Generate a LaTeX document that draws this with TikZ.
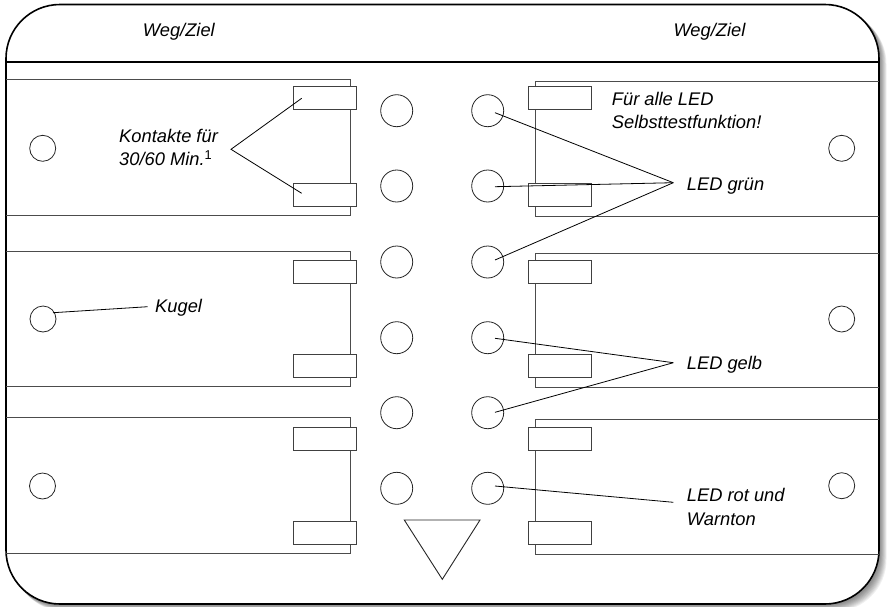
\documentclass[tikz,border=0pt]{standalone}
\usepackage{fontspec}
\setmainfont{Liberation Sans}
\usetikzlibrary{calc}
\begin{document}
\begin{tikzpicture}[x=1pt,y=-1pt,
  outline/.style={draw=black,line width=1.6pt},
  strip/.style={draw=black!70,line width=0.9pt},
  contact/.style={rectangle,draw=black!75,line width=0.9pt,fill=white,minimum width=63.5pt,minimum height=23pt,inner sep=0pt},
  led/.style={circle,draw=black!85,line width=0.8pt,minimum size=32pt,inner sep=0pt},
  ball/.style={circle,draw=black!85,line width=0.8pt,minimum size=26pt,inner sep=0pt},
  lbl/.style={font=\fontsize{18.3}{23.4}\selectfont\itshape,inner sep=0pt,anchor=base west},
  conn/.style={draw=black,line width=0.8pt}]
\useasboundingbox (0,0) rectangle (887,606);
% shadow
\foreach \i in {1,...,10}
  \fill[black,opacity=0.06,rounded corners=52] (6+0.75*\i,4.5+0.75*\i) rectangle (879+0.75*\i,604+0.75*\i);
% body
\draw[outline,fill=white,rounded corners=54] (6,4.5) rectangle (879,604);
\draw[line width=2.4pt] (6,62) -- (879,62);
% strips left
\draw[strip] (6,79.3) -- (350.7,79.3) -- (350.7,215) -- (6,215);
\draw[strip] (6,251.7) -- (350.7,251.7) -- (350.7,386) -- (6,386);
\draw[strip] (6,417.7) -- (350.5,417.7) -- (350.5,553.3) -- (6,553.3);
% strips right
\draw[strip] (879,81) -- (535.7,81) -- (535.7,216) -- (879,216);
\draw[strip] (879,253.3) -- (535.7,253.3) -- (535.7,387.7) -- (879,387.7);
\draw[strip] (879,419.3) -- (535.7,419.3) -- (535.7,554) -- (879,554);
% contacts
\node[contact] (cl1) at (325,97.7) {};
\node[contact] (cl2) at (325,195) {};
\node[contact] (cl3) at (325,272) {};
\node[contact] (cl4) at (325,365.8) {};
\node[contact] (cl5) at (325,438.7) {};
\node[contact] (cl6) at (325,532.5) {};
\node[contact] (cr1) at (559.7,97.7) {};
\node[contact] (cr2) at (559.7,195) {};
\node[contact] (cr3) at (559.7,272) {};
\node[contact] (cr4) at (559.7,365.8) {};
\node[contact] (cr5) at (559.7,438.7) {};
\node[contact] (cr6) at (559.7,532.5) {};
% LEDs
\node[led] (l1) at (396.7,110.7) {};
\node[led] (l2) at (396.7,186) {};
\node[led] (l3) at (396.7,262) {};
\node[led] (l4) at (396.7,337.7) {};
\node[led] (l5) at (396.7,412.7) {};
\node[led] (l6) at (396.7,488.3) {};
\node[led] (r1) at (487.7,110.7) {};
\node[led] (r2) at (487.7,186) {};
\node[led] (r3) at (487.7,262) {};
\node[led] (r4) at (487.7,337.7) {};
\node[led] (r5) at (487.7,412.7) {};
\node[led] (r6) at (487.7,488.3) {};
% balls
\node[ball] (bl1) at (42.7,148.3) {};
\node[ball] (bl2) at (43,319) {};
\node[ball] (bl3) at (42.5,486) {};
\node[ball] (br1) at (841.7,148.3) {};
\node[ball] (br2) at (841.7,319) {};
\node[ball] (br3) at (841.7,485.7) {};
% triangle
\draw[line width=0.9pt,draw=black!85] (404.3,520) -- (480,520) -- (442.3,579.3) -- cycle;
% labels
\node[lbl] (wegL) at (142.7,36.7) {Weg/Ziel};
\node[lbl] (wegR) at (673.3,36.7) {Weg/Ziel};
\node[lbl] (kont) at (119,142.5) {\begin{tabular}[t]{@{}l@{}}Kontakte für\\30/60 Min.\textsuperscript{\upshape 1}\end{tabular}};
\node[lbl] (kugel) at (155,312.7) {Kugel};
\node[lbl] (test) at (611.7,105) {\begin{tabular}[t]{@{}l@{}}Für alle LED\\Selbsttestfunktion!\end{tabular}};
\node[lbl] (gruen) at (686.7,190.3) {LED grün};
\node[lbl] (gelb) at (686.7,369.3) {LED gelb};
\node[lbl] (rot) at (686.7,501.7) {\begin{tabular}[t]{@{}l@{}}LED rot und\\Warnton\end{tabular}};
% connectors
\coordinate (kA) at (231,149.3);
\coordinate (kugA) at (147.7,306.7);
\coordinate (gA) at (673.3,182.7);
\coordinate (yA) at (673.3,362.7);
\coordinate (rA) at (673.3,502.3);
\draw[conn] ($(cl1)+(-23.3,0.6)$) -- (kA) -- ($(cl2)+(-23.3,-1.7)$);
\draw[conn] ($(bl2)+(10,-6.3)$) -- (kugA);
\draw[conn] ($(r1)+(7.3,2)$) -- (gA);
\draw[conn] ($(r2)+(7.3,0.7)$) -- (gA);
\draw[conn] ($(r3)+(7.3,-2)$) -- (gA);
\draw[conn] ($(r4)+(7.3,0.6)$) -- (yA);
\draw[conn] ($(r5)+(7.3,-0.4)$) -- (yA);
\draw[conn] ($(r6)+(7.3,-2.3)$) -- (rA);
\end{tikzpicture}
\end{document}
